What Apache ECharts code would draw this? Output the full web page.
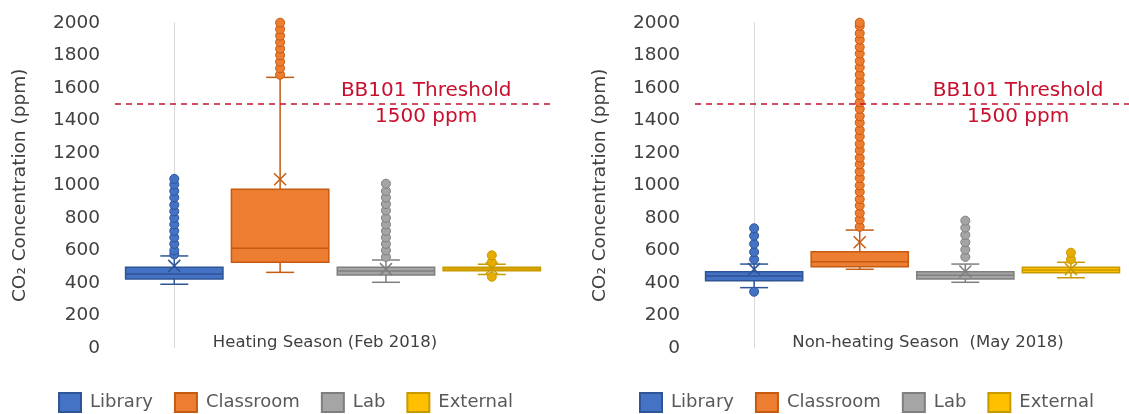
<!DOCTYPE html>
<html>
<head>
<meta charset="utf-8">
<script src="https://cdn.jsdelivr.net/npm/echarts@6/dist/echarts.min.js"></script>
<style>
  html, body { margin: 0; background: #fff; }
  #chart { width: 1129px; height: 414px; }
</style>
</head>
<body>
<div id="chart"></div>
<script>
const categories = ["Library", "Classroom", "Lab", "External"];
const seasonNames = ["Heating Season (Feb 2018)", "Non-heating Season  (May 2018)"];

// [min, Q1, median, Q3, max] per category
const heatingStats = [
  [392, 424, 455, 496, 566],
  [465, 527, 613, 976, 1664],
  [404, 449, 473, 496, 541],
  [452, 475, 485, 496, 515],
];
const heatingMeans = [505, 1037, 485, 490];
const heatingOutliers = [
  [575, 600, 640, 680, 720, 760, 800, 840, 880, 925, 965, 1005, 1040],
  [1680, 1720, 1760, 1800, 1840, 1880, 1920, 1960, 2000],
  [560, 600, 640, 680, 720, 760, 800, 845, 885, 925, 965, 1010],
  [438, 528, 570],
];

const nonHeatingStats = [
  [371, 414, 443, 469, 516],
  [484, 500, 531, 592, 725],
  [404, 424, 447, 469, 516],
  [432, 463, 480, 496, 527],
];
const nonHeatingMeans = [485, 650, 470, 485];
const nonHeatingOutliers = [
  [346, 545, 590, 640, 690, 736],
  [745, 790, 830, 875, 915, 960, 1000, 1045, 1085, 1130, 1170, 1215, 1255, 1300, 1340,
   1385, 1425, 1470, 1510, 1555, 1595, 1640, 1680, 1725, 1765, 1810, 1850, 1895, 1935, 1980, 2000],
  [560, 605, 650, 695, 740, 783],
  [545, 586],
];

const threshold = 1500;
const thresholdText = "BB101 Threshold\n1500 ppm";
const yMin = 0, yMax = 2000, yStep = 200;

const FILL = ["#4472C4", "#ED7D31", "#A5A5A5", "#FFC000"];
const STROKE = ["#2F5597", "#C55A11", "#7F7F7F", "#C99A00"];
const DOT = ["#4472C4", "#ED7D31", "#A5A5A5", "#E6AC00"];
const FONT = '"DejaVu Sans", sans-serif';
const RED = "#C8102E";

const chart = echarts.init(document.getElementById("chart"));

// layout of the two panels
const panels = [
  { left: 115, width: 435, namePad: [0, 15, 0, 0], labelX: 2.38, legendLeft: 58 },
  { left: 695, width: 434, namePad: [0, 0, 0, 32], labelX: 2.5, legendLeft: 639 },
];

function boxRenderer(ci) {
  return function (params, api) {
    const x = api.value(0);
    const lo = api.coord([x, api.value(1)]);
    const q1 = api.coord([x, api.value(2)]);
    const md = api.coord([x, api.value(3)]);
    const q3 = api.coord([x, api.value(4)]);
    const hi = api.coord([x, api.value(5)]);
    const mn = api.coord([x, api.value(6)]);
    const cx = lo[0];
    const bw = api.size([1, 0])[0] * 0.92;
    const cap = 14;
    const xs = 6;
    const ls = { stroke: STROKE[ci], lineWidth: 1.5 };
    const seg = (x1, y1, x2, y2) => ({ type: "line", shape: { x1, y1, x2, y2 }, style: ls });
    return {
      type: "group",
      children: [
        seg(cx, q1[1], cx, lo[1]),
        seg(cx, q3[1], cx, hi[1]),
        seg(cx - cap, lo[1], cx + cap, lo[1]),
        seg(cx - cap, hi[1], cx + cap, hi[1]),
        {
          type: "rect",
          shape: { x: cx - bw / 2, y: q3[1], width: bw, height: Math.max(q1[1] - q3[1], 1.5) },
          style: { fill: FILL[ci], stroke: STROKE[ci], lineWidth: 1.5 },
        },
        seg(cx - bw / 2, md[1], cx + bw / 2, md[1]),
        seg(cx - xs, mn[1] - xs, cx + xs, mn[1] + xs),
        seg(cx - xs, mn[1] + xs, cx + xs, mn[1] - xs),
      ],
    };
  };
}

const grids = [], xAxes = [], yAxes = [], legends = [], series = [];
const seasonData = [
  [heatingStats, heatingMeans, heatingOutliers],
  [nonHeatingStats, nonHeatingMeans, nonHeatingOutliers],
];

panels.forEach((p, pi) => {
  grids.push({ left: p.left, width: p.width, top: 22.7, height: 325.3 });
  xAxes.push({
    gridIndex: pi,
    type: "value",
    min: -0.56,
    max: 3.55,
    name: seasonNames[pi],
    nameLocation: "middle",
    nameGap: -5,
    nameTextStyle: { fontFamily: FONT, fontSize: 16.5, color: "#404040", verticalAlign: "middle", padding: p.namePad },
    axisLine: { show: false },
    axisTick: { show: false },
    axisLabel: { show: false },
    splitLine: { show: false },
  });
  yAxes.push({
    gridIndex: pi,
    type: "value",
    min: yMin,
    max: yMax,
    interval: yStep,
    name: "CO₂ Concentration (ppm)",
    nameLocation: "middle",
    nameGap: 85,
    nameTextStyle: { fontFamily: FONT, fontSize: 18.5, color: "#404040" },
    axisLine: { show: true, lineStyle: { color: "#D9D9D9", width: 1 } },
    axisTick: { show: false },
    splitLine: { show: false },
    axisLabel: { fontFamily: FONT, fontSize: 18.5, color: "#404040", margin: 15, formatter: (v) => String(v) },
  });
  legends.push({
    data: categories,
    left: p.legendLeft,
    top: 392,
    padding: 0,
    icon: "rect",
    itemWidth: 22,
    itemHeight: 19,
    itemGap: 21,
    textStyle: { fontFamily: FONT, fontSize: 18, color: "#595959", padding: [0, 0, 0, 4] },
  });

  const [stats, means, outliers] = seasonData[pi];
  categories.forEach((cat, ci) => {
    const s = {
      name: cat,
      type: "custom",
      xAxisIndex: pi,
      yAxisIndex: pi,
      renderItem: boxRenderer(ci),
      itemStyle: { color: FILL[ci], borderColor: STROKE[ci], borderWidth: 1 },
      encode: { x: 0, y: [1, 2, 3, 4, 5] },
      data: [[ci, ...stats[ci], means[ci]]],
      silent: true,
    };
    if (ci === 0) {
      s.markLine = {
        silent: true,
        symbol: "none",
        label: { show: false },
        lineStyle: { color: RED, type: [6, 5], width: 1.5 },
        data: [{ yAxis: threshold }],
      };
      s.markPoint = {
        silent: true,
        symbolSize: 0,
        data: [{ coord: [p.labelX, threshold] }],
        label: {
          show: true,
          position: "inside",
          formatter: thresholdText,
          fontFamily: FONT,
          fontSize: 20,
          lineHeight: 26,
          color: RED,
          align: "center",
        },
      };
    }
    series.push(s);
  });
  categories.forEach((cat, ci) => {
    series.push({
      name: cat + " outliers",
      type: "scatter",
      xAxisIndex: pi,
      yAxisIndex: pi,
      symbol: "circle",
      symbolSize: 9,
      itemStyle: { color: DOT[ci], borderColor: STROKE[ci], borderWidth: 1, opacity: 1 },
      data: outliers[ci].map((v) => [ci, v]),
      silent: true,
      z: 3,
    });
  });
});

chart.setOption({
  animation: false,
  grid: grids,
  xAxis: xAxes,
  yAxis: yAxes,
  legend: legends,
  series: series,
});
</script>
</body>
</html>
